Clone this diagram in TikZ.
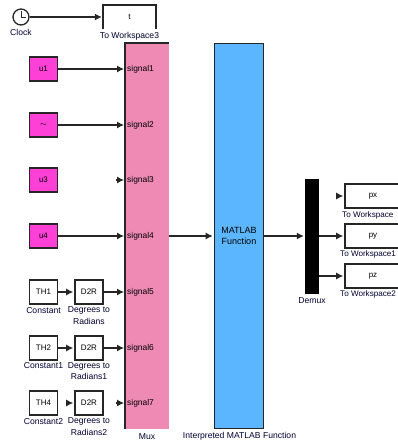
\documentclass[tikz,border=0pt]{standalone}
\usepackage{fontspec}
\setmainfont{Liberation Sans}
\usetikzlibrary{arrows.meta}
\definecolor{srcpink}{RGB}{255,64,214}
\definecolor{muxpink}{RGB}{238,138,180}
\definecolor{fcnblue}{RGB}{92,182,255}
\tikzset{
  blk/.style={draw=black!85, line width=1.6pt, fill=white, inner sep=0pt, font=\fontsize{8}{9}\selectfont},
  srcblk/.style={blk, fill=srcpink, minimum width=28pt, minimum height=23.5pt},
  unitblk/.style={blk, minimum width=28pt, minimum height=23.5pt},
  wsblk/.style={blk, minimum width=56pt, minimum height=23.5pt},
  lbl/.style={inner sep=0pt, font=\fontsize{8.6}{10}\selectfont, text=black!80!blue},
  sig/.style={inner sep=2pt, anchor=west, font=\fontsize{8.4}{9}\selectfont},
  conn/.style={black!85, line width=1.1pt, -{Latex[length=7pt,width=7pt]}, shorten >=1pt}
}
\begin{document}
\begin{tikzpicture}[x=1pt, y=-1pt]
  \useasboundingbox (0,0) rectangle (398,442);
  \clip (0,0) rectangle (398,442);
  \def\yA{69} \def\yB{125} \def\yC{180} \def\yD{236}
  \def\yE{292} \def\yF{348} \def\yG{403}
  % bloques grandes
  \node[fill=muxpink, minimum width=44pt, minimum height=386pt, inner sep=0pt] (mux) at (147,236) {};
  \draw[black!85, line width=1.6pt] (mux.south west) -- (mux.north west) -- (mux.north east);
  \node[blk, fill=fcnblue, minimum width=49pt, minimum height=385pt, align=center,
    font=\fontsize{9}{11}\selectfont] (fcn) at (239,236) {MATLAB\\Function};
  \node[fill=black, minimum width=14pt, minimum height=115pt, inner sep=0pt] (demux) at (312,236) {};
  % reloj y t
  \node[circle, draw=black!85, line width=1.3pt, fill=white, minimum size=16pt, inner sep=0pt] (clock) at (21,17) {};
  \draw[black!85, line width=1pt] (21,11) -- (clock.center) -- (26,17);
  \node[inner sep=0pt, minimum width=53pt, minimum height=24pt, font=\fontsize{8}{9}\selectfont] (tws) at (129.5,17) {t};
  \draw[black!85, line width=1.6pt] (tws.south west) -- (tws.north west) -- (tws.north east) -- (tws.south east);
  \draw[conn] (clock) -- (tws.west);
  % entradas
  \node[srcblk] (uA) at (43.5,\yA) {u1};
  \node[srcblk] (uB) at (43.5,\yB) {$\sim$};
  \node[srcblk] (uC) at (43.5,\yC) {u3};
  \node[srcblk] (uD) at (43.5,\yD) {u4};
  \node[unitblk] (cE) at (43.5,\yE) {TH1};
  \node[unitblk] (cF) at (43.5,\yF) {TH2};
  \node[unitblk] (cG) at (43.5,\yG) {TH4};
  \node[unitblk] (gE) at (89,\yE) {D2R};
  \node[unitblk] (gF) at (89,\yF) {D2R};
  \node[unitblk] (gG) at (89,\yG) {D2R};
  \foreach \n/\y in {1/\yA,2/\yB,3/\yC,4/\yD,5/\yE,6/\yF,7/\yG}
    \node[sig] (s\n) at (125,\y) {signal\n};
  \coordinate (freeC) at (116,\yC);
  \coordinate (freeG) at (116,\yG);
  \coordinate (freeH) at (66,\yG);
  \draw[conn] (uA) -- (s1.west);
  \draw[conn] (uB) -- (s2.west);
  \draw[conn] (freeC) -- (s3.west);
  \draw[conn] (uD) -- (s4.west);
  \draw[conn] (cE) -- (gE);
  \draw[conn] (gE) -- (s5.west);
  \draw[conn] (cF) -- (gF);
  \draw[conn] (gF) -- (s6.west);
  \draw[conn] (freeH) -- (gG);
  \draw[conn] (freeG) -- (s7.west);
  % salidas
  \node[wsblk] (px) at (373,196) {px};
  \node[wsblk] (py) at (373,236) {py};
  \node[wsblk] (pz) at (373,276) {pz};
  \coordinate (freeX) at (336,196);
  \draw[conn] (mux.east) -- (fcn.west);
  \draw[conn] (fcn.east) -- (demux.west);
  \draw[conn] (freeX) -- (px.west);
  \draw[conn] (py.west -| demux.east) -- (py.west);
  \draw[conn] (pz.west -| demux.east) -- (pz.west);
  % rotulos
  \node[lbl] (lclock) at (21,32) {Clock};
  \node[lbl] (ltws) at (129.5,36) {To Workspace3};
  \node[lbl] (lcE) at (43.5,310.5) {Constant};
  \node[lbl] (lgE) at (89,310.5) {Degrees to};
  \node[lbl] (lgEb) at (89,321) {Radians};
  \node[lbl] (lcF) at (43.5,366) {Constant1};
  \node[lbl] (lgF) at (89,366) {Degrees to};
  \node[lbl] (lgFb) at (89,376.5) {Radians1};
  \node[lbl] (lcG) at (43.5,421.5) {Constant2};
  \node[lbl] (lgG) at (89,421.5) {Degrees to};
  \node[lbl] (lgGb) at (89,432) {Radians2};
  \node[lbl] (lmux) at (147,436.5) {Mux};
  \node[lbl] (lfcn) at (239.5,436) {Interpreted MATLAB Function};
  \node[lbl] (ldemux) at (312,301) {Demux};
  \node[lbl, anchor=west, font=\fontsize{8.1}{10}\selectfont] (lpx) at (342,215) {To Workspace};
  \node[lbl, anchor=west, font=\fontsize{8.1}{10}\selectfont] (lpy) at (340,254.5) {To Workspace1};
  \node[lbl, anchor=west, font=\fontsize{8.1}{10}\selectfont] (lpz) at (340,294.5) {To Workspace2};
\end{tikzpicture}
\end{document}
